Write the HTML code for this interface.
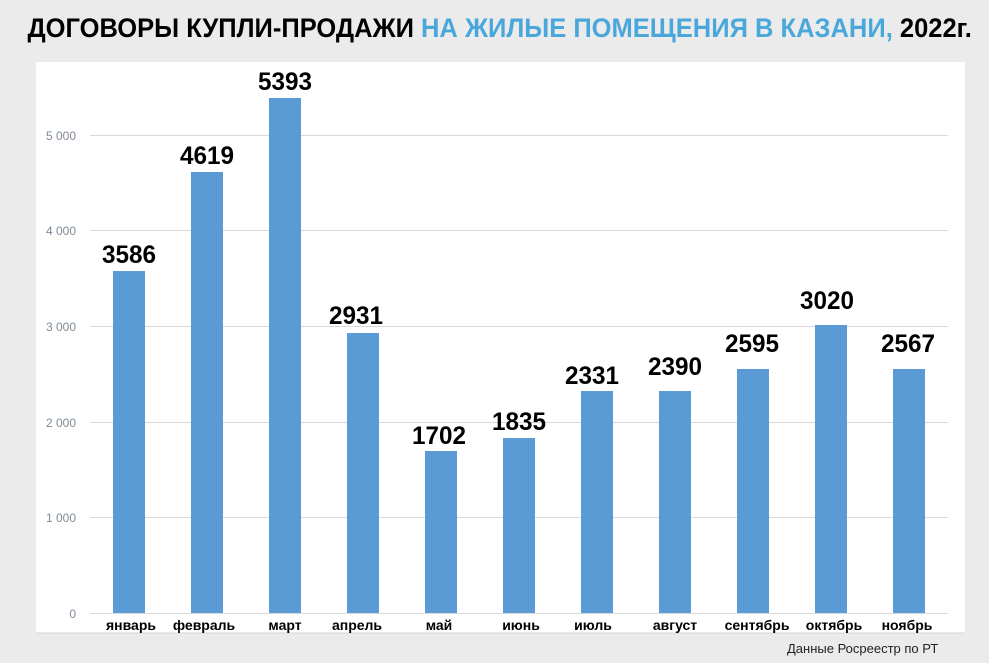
<!DOCTYPE html>
<html><head><meta charset="utf-8"><style>
body{margin:0;width:989px;height:663px;background:#ebebeb;overflow:hidden;font-family:"Liberation Sans",sans-serif;position:relative}
.t{position:absolute;left:0;top:13px;width:989px;text-align:center;font-weight:bold;font-size:27px;white-space:nowrap;transform:scaleX(0.945);transform-origin:500px 0}
.t span{color:#4aa7dc}
.src{position:absolute;left:787px;top:641px;font-size:13px;color:#222}
</style></head><body>
<div class="t">ДОГОВОРЫ КУПЛИ-ПРОДАЖИ <span>НА ЖИЛЫЕ ПОМЕЩЕНИЯ В КАЗАНИ,</span> 2022г.</div>
<svg style="position:absolute;left:0;top:0" width="989" height="663">
<rect x="36" y="62" width="929" height="571" fill="#fff"/>
<line x1="36" y1="633" x2="965" y2="633" stroke="#d4d4d4"/>
<g stroke="#d9d9d9" stroke-width="1">
<line x1="90" x2="948" y1="135.5" y2="135.5"/><line x1="90" x2="948" y1="230.5" y2="230.5"/>
<line x1="90" x2="948" y1="326.5" y2="326.5"/><line x1="90" x2="948" y1="422.5" y2="422.5"/>
<line x1="90" x2="948" y1="517.5" y2="517.5"/><line x1="90" x2="948" y1="613.5" y2="613.5"/>
</g>
<g font-size="12" fill="#7f8a96" text-anchor="end" font-family="Liberation Sans,sans-serif">
<text x="76" y="140">5 000</text><text x="76" y="235">4 000</text><text x="76" y="331">3 000</text>
<text x="76" y="427">2 000</text><text x="76" y="522">1 000</text><text x="76" y="618">0</text>
</g>
<g fill="#5b9bd5">
<rect x="113" y="271" width="32" height="342"/>
<rect x="191" y="172" width="32" height="441"/>
<rect x="269" y="98" width="32" height="515"/>
<rect x="347" y="333" width="32" height="280"/>
<rect x="425" y="451" width="32" height="162"/>
<rect x="503" y="438" width="32" height="175"/>
<rect x="581" y="391" width="32" height="222"/>
<rect x="659" y="391" width="32" height="222"/>
<rect x="737" y="369" width="32" height="244"/>
<rect x="815" y="325" width="32" height="288"/>
<rect x="893" y="369" width="32" height="244"/>
</g>
<g font-size="25" font-weight="bold" text-anchor="middle" fill="#000" font-family="Liberation Sans,sans-serif">
<text x="129" y="263" textLength="54" lengthAdjust="spacingAndGlyphs">3586</text>
<text x="207" y="164" textLength="54" lengthAdjust="spacingAndGlyphs">4619</text>
<text x="285" y="90" textLength="54" lengthAdjust="spacingAndGlyphs">5393</text>
<text x="356" y="324" textLength="54" lengthAdjust="spacingAndGlyphs">2931</text>
<text x="439" y="444" textLength="54" lengthAdjust="spacingAndGlyphs">1702</text>
<text x="519" y="430" textLength="54" lengthAdjust="spacingAndGlyphs">1835</text>
<text x="592" y="384" textLength="54" lengthAdjust="spacingAndGlyphs">2331</text>
<text x="675" y="375" textLength="54" lengthAdjust="spacingAndGlyphs">2390</text>
<text x="752" y="352" textLength="54" lengthAdjust="spacingAndGlyphs">2595</text>
<text x="827" y="309" textLength="54" lengthAdjust="spacingAndGlyphs">3020</text>
<text x="908" y="352" textLength="54" lengthAdjust="spacingAndGlyphs">2567</text>
</g>
<g font-size="14" font-weight="bold" text-anchor="middle" fill="#000" font-family="Liberation Sans,sans-serif">
<text x="131" y="630">январь</text><text x="204" y="630">февраль</text><text x="285" y="630">март</text>
<text x="357" y="630">апрель</text><text x="439" y="630">май</text><text x="521" y="630">июнь</text>
<text x="593" y="630">июль</text><text x="675" y="630">август</text><text x="757" y="630">сентябрь</text>
<text x="834" y="630">октябрь</text><text x="907" y="630">ноябрь</text>
</g>
</svg>
<div class="src">Данные Росреестр по РТ</div>
</body></html>
